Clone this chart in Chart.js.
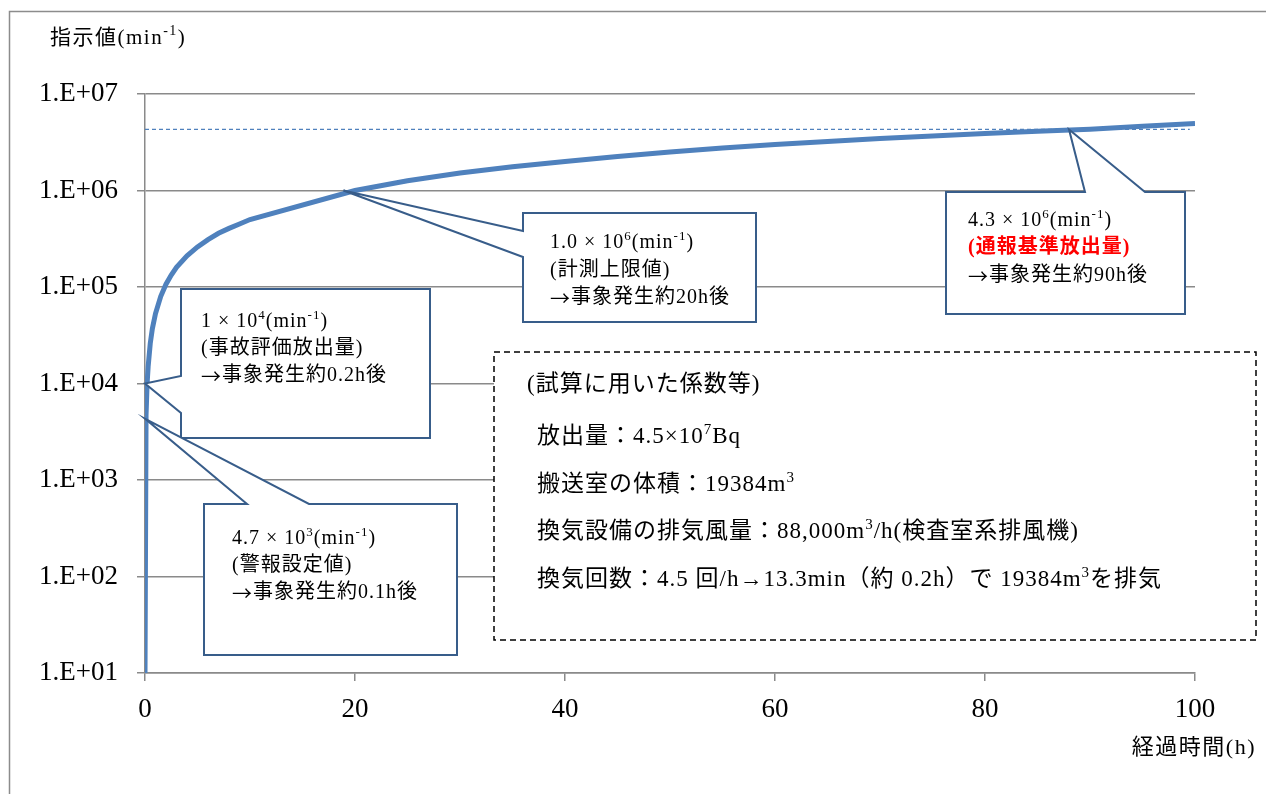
<!DOCTYPE html>
<html lang="ja">
<head>
<meta charset="utf-8">
<title>指示値の推移</title>
<script src="https://cdn.jsdelivr.net/npm/chart.js@4.4.1/dist/chart.umd.min.js"></script>
<style>
  html, body { margin: 0; padding: 0; background: #fff; }
  canvas { display: block; }
</style>
</head>
<body>
<canvas id="chart" width="1266" height="794"></canvas>
<script>
// ── Data ──────────────────────────────────────────────
const hours = [0, 0.1, 0.2, 0.3, 0.5, 0.7, 1, 1.5, 2, 2.5, 3, 4, 5, 6, 7, 8, 9, 10,
               20, 25, 30, 35, 40, 45, 50, 55, 60, 65, 70, 75, 80, 85, 90, 95, 100];
const readings = [10, 4.7e3, 1.0e4, 1.5e4, 2.6e4, 3.7e4, 5.3e4, 8.0e4, 1.07e5, 1.33e5, 1.6e5, 2.1e5, 2.6e5,
                  3.1e5, 3.6e5, 4.05e5, 4.5e5, 5.0e5,
                  1.0e6, 1.26e6, 1.52e6, 1.76e6, 2.0e6, 2.25e6, 2.5e6, 2.75e6, 3.0e6, 3.22e6, 3.45e6,
                  3.67e6, 3.9e6, 4.1e6, 4.3e6, 4.62e6, 4.95e6];
const yTicks = [1e1, 1e2, 1e3, 1e4, 1e5, 1e6, 1e7];
const xTicks = [0, 20, 40, 60, 80, 100];
const limitHours  = [0, 99.5];
const limitValues = [4.3e6, 4.3e6];

// ── Styles ────────────────────────────────────────────
const SERIF = '"Liberation Serif", "Noto Sans CJK JP", serif';
const CJK = '"Noto Sans CJK JP", sans-serif';
const LINE_BLUE = '#4F81BD';
const BOX_BLUE = '#385D8A';
const GRID = '#8a8a8a';

// callouts: tip in data units, box in pixels, notch on left or top edge
const callouts = [
  { tip: [0, 1.0e4], box: [181, 289, 430, 438], side: 'left', a: 376, b: 413, x: 201, ys: [322, 349, 376],
    lines: [[['1 × 10'], ['4', 'sup'], ['(min'], ['-1', 'sup'], [')']], [['(事故評価放出量)']], [['→', 'cjk'], ['事象発生約0.2h後']]] },
  { tip: [0.02, 4.3e3], box: [204, 504, 457, 655], side: 'top', a: 247, b: 309, x: 232, ys: [539, 566, 593],
    lines: [[['4.7 × 10'], ['3', 'sup'], ['(min'], ['-1', 'sup'], [')']], [['(警報設定値)']], [['→', 'cjk'], ['事象発生約0.1h後']]] },
  { tip: [18.9, 1.0e6], box: [523, 213, 756, 322], side: 'left', a: 231, b: 257, x: 550, ys: [243, 271, 298],
    lines: [[['1.0 × 10'], ['6', 'sup'], ['(min'], ['-1', 'sup'], [')']], [['(計測上限値)']], [['→', 'cjk'], ['事象発生約20h後']]] },
  { tip: [88, 4.3e6], box: [946, 192, 1185, 314], side: 'top', a: 1085, b: 1145, x: 968, ys: [221, 248, 276],
    lines: [[['4.3 × 10'], ['6', 'sup'], ['(min'], ['-1', 'sup'], [')']], [['(通報基準放出量)', 'red']], [['→', 'cjk'], ['事象発生約90h後']]] },
];

const noteLines = [
  [['(試算に用いた係数等)']],
  [['放出量：4.5×10'], ['7', 'sup'], ['Bq']],
  [['搬送室の体積：19384m'], ['3', 'sup']],
  [['換気設備の排気風量：88,000m'], ['3', 'sup'], ['/h(検査室系排風機)']],
  [['換気回数：4.5 回/h→13.3min（約 0.2h）で 19384m'], ['3', 'sup'], ['を排気']],
];

// ── Helpers ───────────────────────────────────────────
function drawRich(ctx, x, y, parts, size, spacing) {
  ctx.textBaseline = 'middle';
  ctx.textAlign = 'left';
  ctx.letterSpacing = (spacing || 0) + 'px';
  parts.forEach(([text, style]) => {
    const sup = style === 'sup';
    const red = style === 'red';
    const family = style === 'cjk' ? CJK : SERIF;
    ctx.font = (red ? 'bold ' : '') + (sup ? Math.round(size * 0.65) : size) + 'px ' + family;
    ctx.fillStyle = red ? '#FF0000' : '#000';
    ctx.fillText(text, x, sup ? y - size * 0.3 : y);
    x += ctx.measureText(text).width;
  });
  ctx.letterSpacing = '0px';
}

function drawCallout(chart, c) {
  const ctx = chart.ctx;
  const tx = chart.scales.x.getPixelForValue(c.tip[0]);
  const ty = chart.scales.y.getPixelForValue(c.tip[1]);
  const [l, t, r, b] = c.box;
  ctx.beginPath();
  if (c.side === 'left') {
    ctx.moveTo(l, t); ctx.lineTo(r, t); ctx.lineTo(r, b); ctx.lineTo(l, b);
    ctx.lineTo(l, c.b); ctx.lineTo(tx, ty); ctx.lineTo(l, c.a);
  } else {
    ctx.moveTo(l, t); ctx.lineTo(c.a, t); ctx.lineTo(tx, ty); ctx.lineTo(c.b, t);
    ctx.lineTo(r, t); ctx.lineTo(r, b); ctx.lineTo(l, b);
  }
  ctx.closePath();
  ctx.fillStyle = '#fff';
  ctx.fill();
  ctx.lineWidth = 2;
  ctx.strokeStyle = BOX_BLUE;
  ctx.lineJoin = 'miter';
  ctx.stroke();
  c.lines.forEach((parts, i) => drawRich(ctx, c.x, c.ys[i], parts, 20, 1));
}

const decor = {
  id: 'decor',
  beforeDraw(chart) {
    const ctx = chart.ctx;
    ctx.save();
    ctx.strokeStyle = '#8c8c8c';
    ctx.lineWidth = 1.5;
    ctx.beginPath();
    ctx.moveTo(9.5, 794); ctx.lineTo(9.5, 11.5); ctx.lineTo(1266, 11.5);
    ctx.stroke();
    ctx.restore();
  },
  afterDatasetsDraw(chart) {
    const ctx = chart.ctx;
    ctx.save();
    callouts.forEach(c => drawCallout(chart, c));

    // coefficient note box
    ctx.fillStyle = '#fff';
    ctx.fillRect(494, 352, 762, 288);
    ctx.setLineDash([6, 4]);
    ctx.lineWidth = 1.5;
    ctx.strokeStyle = '#000';
    ctx.strokeRect(494, 352, 762, 288);
    ctx.setLineDash([]);
    const noteX = [527, 537, 537, 537, 537];
    const noteY = [385, 437, 485, 532, 580];
    noteLines.forEach((parts, i) => drawRich(ctx, noteX[i], noteY[i], parts, 23, 1));

    // axis titles
    drawRich(ctx, 50, 38, [['指示値(min'], ['-1', 'sup'], [')']], 21, 1.5);
    ctx.font = '22px ' + SERIF;
    ctx.letterSpacing = '1.5px';
    ctx.textAlign = 'right';
    ctx.textBaseline = 'middle';
    ctx.fillStyle = '#000';
    ctx.fillText('経過時間(h)', 1256, 748);
    ctx.restore();
  }
};

// ── Chart ─────────────────────────────────────────────
new Chart(document.getElementById('chart'), {
  type: 'line',
  data: {
    datasets: [
      {
        data: hours.map((h, i) => ({ x: h, y: readings[i] })),
        borderColor: LINE_BLUE,
        borderWidth: 5,
        pointRadius: 0,
        tension: 0,
        order: 0,
      },
      {
        data: limitHours.map((h, i) => ({ x: h, y: limitValues[i] })),
        borderColor: LINE_BLUE,
        borderWidth: 1.2,
        borderDash: [4, 3],
        pointRadius: 0,
        order: 1,
      },
    ],
  },
  options: {
    responsive: false,
    animation: false,
    devicePixelRatio: 1,
    events: [],
    layout: { padding: { left: 0, top: 94, right: 71, bottom: 71 } },
    plugins: { legend: { display: false }, tooltip: { enabled: false } },
    scales: {
      x: {
        type: 'linear',
        min: 0,
        max: 100,
        afterBuildTicks: s => { s.ticks = xTicks.map(v => ({ value: v })); },
        afterFit: s => { s.height = 50; },
        ticks: { color: '#000', font: { family: SERIF, size: 27 }, padding: 13, maxRotation: 0 },
        grid: { drawOnChartArea: false, tickLength: 8, color: GRID, lineWidth: 1.5 },
        border: { color: GRID, width: 1.5 },
      },
      y: {
        type: 'logarithmic',
        min: 10,
        max: 1e7,
        afterBuildTicks: s => { s.ticks = yTicks.map(v => ({ value: v })); },
        afterFit: s => { s.width = 145; },
        ticks: {
          color: '#000',
          font: { family: SERIF, size: 27 },
          padding: 19,
          callback: v => '1.E+' + String(Math.round(Math.log10(v))).padStart(2, '0'),
        },
        grid: { tickLength: 8, color: GRID, lineWidth: 1.5 },
        border: { color: GRID, width: 1.5 },
      },
    },
  },
  plugins: [decor],
});
</script>
</body>
</html>
